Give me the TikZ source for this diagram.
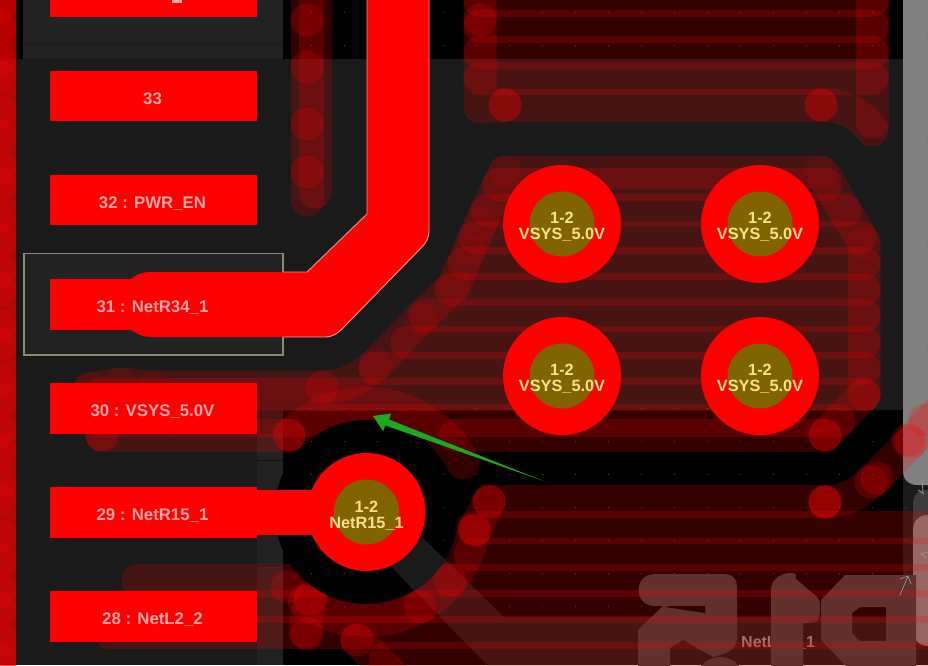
\documentclass[tikz,border=0pt]{standalone}
\usepackage{fontspec}
\setmainfont{Liberation Sans}
\tikzset{
  zone/.style={draw=red,opacity=.2,line width=33pt,line cap=round,line join=round},
  vert/.style={fill=red,opacity=.2},
  softvert/.style={fill=red,opacity=.08},
  padbox/.style={fill=red},
  padtext/.style={text=padtxt,font=\fontsize{16.8}{17}\selectfont\bfseries,anchor=base,inner sep=0pt},
  viatext/.style={text=viatxt,font=\fontsize{16.3}{16.3}\selectfont\bfseries,anchor=base,inner sep=0pt},
  edgeline/.style={draw=edgec,line width=.9pt,line join=round},
  thin arrow/.style={draw=arrowc,line width=.7pt}
}
\definecolor{bgc}{HTML}{1A1A1A}
\definecolor{strip}{HTML}{222222}
\definecolor{padtxt}{HTML}{FFA8A8}
\definecolor{viatxt}{HTML}{FFE08A}
\definecolor{holec}{HTML}{806400}
\definecolor{silkc}{HTML}{3C3C3C}
\definecolor{silktxt}{HTML}{8C8C8C}
\definecolor{edgec}{HTML}{D8A090}
\definecolor{boxc}{HTML}{8A8A70}
\definecolor{grayc}{HTML}{808080}
\definecolor{greenc}{HTML}{1AAA1A}
\definecolor{arrowc}{HTML}{8A9A9A}
\definecolor{dotc}{HTML}{4A4A4A}
\begin{document}
\begin{tikzpicture}[x=1pt,y=-1pt]
\useasboundingbox (0,0) rectangle (928,665);
\clip (0,0) rectangle (928,665);
% backgrounds
\fill[bgc] (0,0) rectangle (928,665);
\fill[black] (0,0) rectangle (23,59);
\fill[strip] (23,0) rectangle (283,59);
\draw[bgc,line width=.6pt] (23,44) -- (283,44);
\fill[black] (283,0) rectangle (903,59);
\fill[black] (283,410) rectangle (903,665);
\fill[strip] (257,434) rectangle (283,665);
\draw[bgc!70!black,line width=.6pt] (257,460) -- (283,460) (257,565) -- (283,565);
\foreach \xx in {311,344,...,905}{
  \foreach \yy in {12,45,408,441,474,507,540,573,606}{
    \fill[dotc] (\xx-.5,\yy-.5) rectangle (\xx+.5,\yy+.5);
  }
}
% ground band
\fill[bgc] (420,535) -- (504,617) -- (928,617) -- (928,665) -- (487,665) -- (390,565) -- cycle;
% gray strips
\fill[grayc] (903,-5) -- (903,471) .. controls (903,480) and (909,485) .. (918,485) -- (935,485) -- (935,-5) -- cycle;
\fill[silkc] (935,490) -- (925,490) .. controls (917,490) and (913,496) .. (913,504) -- (913,640) -- (935,645) -- cycle;
\fill[grayc] (935,515) -- (928,515) .. controls (918,515) and (913,522) .. (913,530) -- (913,632) .. controls (913,640) and (920,646) .. (928,646) -- (935,646) -- cycle;
% silkscreen text and letters
\node[text=silktxt,font=\fontsize{16}{16}\selectfont\bfseries,anchor=base west,inner sep=0pt] (silkA) at (741,647) {NetL};
\node[text=silktxt,font=\fontsize{16}{16}\selectfont\bfseries,anchor=base west,inner sep=0pt] (silkB) at (797,647) {\_1};
% letter a
\fill[silkc] (655,574) -- (725,574) .. controls (732,574) and (737,579) .. (737,586) -- (737,606) -- (655,606) .. controls (633,606) and (633,574) .. (655,574) -- cycle;
\fill[silkc] (638,630) -- (663,606) -- (737,606) -- (737,638) .. controls (737,648) and (728,653) .. (720,655) -- (713,657) -- (683,640) -- (670,648) -- (670,670) -- (638,670) -- cycle;
\fill[black] (670,606) -- (705,606) -- (705,613) -- (665,607) -- cycle;
\fill[silkc] (720,682) circle (25);
% letter 1
\fill[silkc] (771,590) .. controls (771,570) and (803,570) .. (795,578) -- (817,597) .. controls (819,599) and (820,601) .. (820,604) -- (820,613) .. controls (820,620) and (816,623) .. (810,623) -- (803,623) -- (803,670) -- (771,670) -- cycle;
% letter o
\fill[silkc,even odd rule] (821,600) -- (845,575) -- (916,575) -- (916,670) -- (850,670) -- (821,640) -- cycle
  (860,607) -- (886,607) -- (886,641) -- (860,641) -- (852,633) -- (852,613) -- cycle;
% top zone
\foreach \yy in {0,26,52.5,78.5}{\draw[zone] (480,\yy) -- (872,\yy);}
\draw[zone] (505,105) -- (821,105);
\draw[zone] (480,-15) -- (480,107) -- (505,105);
\draw[zone] (872,-15) -- (872,122);
\draw[zone] (821,105) .. controls (845,105) and (860,115) .. (872,130);
\foreach \p in {(505,105),(821,105),(480,20)}{\fill[vert] \p circle (16.5);}
% trace stubs between pads
\draw[zone] (307,-15) -- (307,200);
\draw[zone] (315,-15) -- (315,192);
\foreach \yy in {20,67,124,172}{\fill[vert] (307,\yy) circle (16.5);}
% middle zone
\draw[zone] (499,184.5) -- (826,184.5);
\draw[zone] (487,210.8) -- (845,210.8);
\draw[zone] (475,237) -- (860,237);
\draw[zone] (464,263.3) -- (864,263.3);
\draw[zone] (451,289.5) -- (864,289.5);
\draw[zone] (425,315.8) -- (864,315.8);
\draw[zone] (407,342) -- (864,342);
\draw[zone] (375,368.3) -- (864,368.3);
\draw[zone] (100,394.5) -- (864,394.5);
\draw[zone] (100,420.8) -- (839,420.8);
\draw[zone] (825,435) -- (455,435);
\draw[zone] (102,435) -- (289,435);
\draw[zone] (102,435) -- (90,389) -- (120,384) -- (153,387) -- (320,387) .. controls (350,387) and (362,375) .. (375,365) -- (421,317) -- (453,287) -- (480,225) -- (505,172) -- (821,172) -- (829,183) -- (864,243) -- (864,395) -- (825,435);
\foreach \p in {(505,172),(821,172),(864,243),(480,225),(470,250),(455,285),(422,320),(375,365),(120,384),(153,387),(90,389),(102,435)}{\fill[softvert] \p circle (16.5);}
\foreach \p in {(864,395),(825,435),(322,387),(289,435)}{\fill[vert] \p circle (16.5);}
% bottom zone
\draw[zone] (489,501.5) -- (825,501.5);
\foreach \yy/\xx in {527.7/473,554/470,580/138,606.4/120,632.6/110,658.8/385}{\draw[zone] (\xx,\yy) -- (960,\yy);}
\draw[zone] (489,501.5) -- (475,530);
\draw[zone] (825,502) .. controls (845,502) and (860,492) .. (871,482) -- (911,442) -- (950,400);
\draw[zone] (357,640) -- (395,678);
\draw[zone] (310,599) -- (305,632);
\foreach \p in {(489,501.5),(475,530),(825,502),(825,502),(871,482),(877,478),(911,442),(908,440),(925,420),(287,587),(310,599),(307,634),(357,640),(420,607),(450,580)}{\fill[vert] \p circle (16.5);}
% right edge copper
\foreach \yy in {10,36,...,400}{\draw[zone] (944,\yy) -- (980,\yy);}
% clearance disc
\fill[black] (366.5,512) circle (92);
\foreach \xx in {311,344,...,443}{\foreach \yy in {441,474,507,540,573}{\fill[dotc] (\xx-.4,\yy-.4) rectangle (\xx+.4,\yy+.4);}}
\begin{scope}
  \clip (366.5,512) circle (92);
  \fill[bgc] (420,535) -- (504,617) -- (460,640) -- (390,565) -- cycle;
\end{scope}
% rings around the via
\draw[zone] plot[domain=225:333,samples=50] ({366.5+108.5*cos(\x)},{512+108.5*sin(\x)});
\draw[zone] plot[domain=10:125,samples=50] ({366.5+108.5*cos(\x)},{512+108.5*sin(\x)});
% left edge copper
\draw[red,opacity=.65,line width=34pt] (-1,-5) -- (-1,670);
\foreach \yy in {5,28,60,78,112,135,168,185,218,240,270,290,325,345,380,400,430,452,482,500,535,560,590,610,640,660}{\fill[vert] (-1,\yy) circle (17);}
% pin select box
\fill[strip] (24,254) rectangle (283,355);
\draw[boxc,line width=1.4pt] (24,253.5) rectangle (283,355);
% pads
\fill[padbox] (50,-5) rectangle (257,17);
\fill[padbox] (50,71) rectangle (257,121);
\fill[padbox] (50,175) rectangle (257,225);
\fill[padbox] (50,279) rectangle (257,330);
\fill[padbox] (50,383) rectangle (257,434);
\fill[padbox] (50,487) rectangle (257,538);
\fill[padbox] (50,591) rectangle (257,642);
\fill[padbox] (257,490) rectangle (320,535);
\fill[padtxt] (172,0) rectangle (182,3);
% power track
\fill[red] (367,-5) -- (367,214) -- (307,272) -- (150,272) .. controls (143,272) and (137,274) .. (131,279) -- (131,330) .. controls (137,334) and (143,337) .. (150,337) -- (325,337) .. controls (333,337) and (338,333) .. (342,329) -- (421,248) .. controls (426,243) and (429,238) .. (429,230) -- (429,-5) -- cycle;
\draw[edgeline] (367,-5) -- (367,214) -- (307,272) -- (283,272);
\draw[edgeline] (283,337) -- (325,337) .. controls (333,337) and (338,333) .. (342,329) -- (421,248) .. controls (426,243) and (429,238) .. (429,230) -- (429,-5);
% pad labels
\node[padtext] (p33) at (152.5,104) {33};
\node[padtext] (p32) at (152.5,208) {32 : PWR\_EN};
\node[padtext] (p31) at (152.5,312) {31 : NetR34\_1};
\node[padtext] (p30) at (152.5,416) {30 : VSYS\_5.0V};
\node[padtext] (p29) at (152.5,520) {29 : NetR15\_1};
\node[padtext] (p28) at (152.5,624) {28 : NetL2\_2};
% vias
\foreach \cx/\cy/\nm in {562/224/a,760/224/b,562/376/c,760/376/d}{
  \fill[red] (\cx,\cy) circle (59);
  \fill[holec] (\cx,\cy) circle (32.5);
  \node[viatext] (via\nm n) at (\cx,\cy-1) {1-2};
  \node[viatext] (via\nm t) at (\cx,\cy+15) {VSYS\_5.0V};
}
\fill[red] (366.5,512) circle (59);
\fill[holec] (366.5,512) circle (32.5);
\node[viatext] (viaen) at (366.5,512) {1-2};
\node[viatext] (viaet) at (366.5,528) {NetR15\_1};
% green arrow
\fill[greenc] (545,481.5) -- (389,419.5) -- (391,413.5) -- (373,416) -- (383,431) -- (385.5,425.5) -- cycle;
% thin marks
\draw[thin arrow] (900,595) -- (908,576) (900,579) -- (908,576) -- (911,584);
\draw[thin arrow] (922,480) -- (923,493) (918,490) -- (924,494) (928,552) -- (921,554) -- (927,558);
\end{tikzpicture}
\end{document}
